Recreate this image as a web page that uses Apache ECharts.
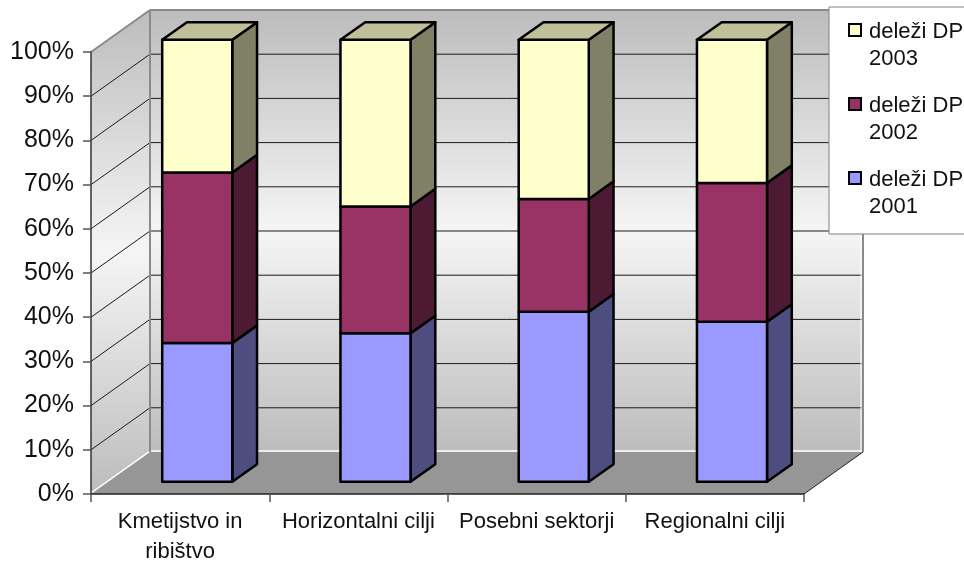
<!DOCTYPE html>
<html>
<head>
<meta charset="utf-8">
<title>deleži DP</title>
<style>
  html, body { margin: 0; padding: 0; background: #fff; }
  #main { width: 964px; height: 561px; }
</style>
<script src="https://cdn.jsdelivr.net/npm/echarts@6/dist/echarts.min.js"></script>
</head>
<body>
<div id="main"></div>
<script>
const categories = ['Kmetijstvo in\nribištvo', 'Horizontalni cilji', 'Posebni sektorji', 'Regionalni cilji'];
const delezi2001 = [31.4, 33.6, 38.5, 36.2];
const delezi2002 = [38.6, 28.7, 25.5, 31.4];
const delezi2003 = [30.0, 37.7, 36.0, 32.4];
const gridTicks = [0, 10, 20, 30, 40, 50, 60, 70, 80, 90, 100];

const fontFamily = '"Liberation Sans", Arial, sans-serif';

// the fake 3D box: how far the back wall sits from the front plane, in px
const depthX = 59;
const depthY = -42;
// bars stand between these fractions of the depth
const barFront = 0.29;
const barBack = 0.71;
const barWidthShare = 0.393;
const barBorder = 2.5;

// legend swatch sits level with the first of the two text lines
const legendIcon = 'path://M0 11H12V23H0ZM0 54L0 54';

function poly(points, fill, stroke, lineWidth) {
  return {
    type: 'polygon',
    shape: { points: points },
    style: { fill: fill, stroke: stroke || null, lineWidth: lineWidth || 0, lineJoin: 'round' }
  };
}

function line(x1, y1, x2, y2, color, width) {
  return {
    type: 'line',
    shape: { x1: x1, y1: y1, x2: x2, y2: y2 },
    style: { stroke: color, lineWidth: width }
  };
}

function wallGradient() {
  return new echarts.graphic.LinearGradient(0, 0, 0, 1, [
    { offset: 0, color: '#bcbcbc' },
    { offset: 0.5, color: '#f5f5f5' },
    { offset: 1, color: '#bcbcbc' }
  ]);
}

function renderWalls(params, api) {
  const band = api.size([1, 0])[0];
  const left = api.coord([0, 0])[0] - band / 2;
  const right = api.coord([categories.length - 1, 0])[0] + band / 2;
  const bottom = api.coord([0, 0])[1];
  const top = api.coord([0, 100])[1];
  const backLeft = left + depthX;
  const backRight = right + depthX;
  const backBottom = bottom + depthY;
  const backTop = top + depthY;

  const children = [
    poly([[left, top], [backLeft, backTop], [backLeft, backBottom], [left, bottom]], wallGradient()),
    poly([[backLeft, backTop], [backRight, backTop], [backRight, backBottom], [backLeft, backBottom]], wallGradient()),
    poly([[left, bottom], [right, bottom], [backRight, backBottom], [backLeft, backBottom]], '#969696')
  ];

  gridTicks.forEach(function (t) {
    if (t === 0 || t === 100) return;
    const y = api.coord([0, t])[1];
    children.push(line(left, y, backLeft, y + depthY, '#1a1a1a', 1));
    children.push(line(backLeft, y + depthY, backRight, y + depthY, '#1a1a1a', 1));
  });

  children.push(line(left, bottom - 1, backLeft, backBottom - 1, '#fff', 1.5));
  children.push(line(backLeft, backBottom - 1, backRight - 1, backBottom - 1, '#fff', 1.5));
  children.push(line(backRight - 2, backTop, backRight - 2, backBottom, '#fff', 1));
  children.push(line(left, top, backLeft, backTop, '#8a8a8a', 2));
  children.push(line(backLeft, backTop, backRight, backTop, '#8a8a8a', 2));
  children.push(line(backLeft, backTop, backLeft, backBottom, '#8a8a8a', 2));
  children.push(line(backRight, backTop, backRight, backBottom, '#8a8a8a', 2));
  children.push(line(right, bottom, backRight, backBottom, '#222', 1));

  return { type: 'group', children: children };
}

// one stacked segment of a column: front face, side face, top face
function makeRenderBar(stackBelow, values, front, side, topFace, isTop) {
  return function (params, api) {
    const i = params.dataIndex;
    const band = api.size([1, 0])[0];
    const w = band * barWidthShare;
    const p0 = api.coord([i, stackBelow[i]]);
    const p1 = api.coord([i, stackBelow[i] + values[i]]);
    const x0 = p0[0] - w / 2 + depthX * barFront;
    const x1 = x0 + w;
    const y0 = p0[1] + depthY * barFront;
    const y1 = p1[1] + depthY * barFront;
    const ox = depthX * (barBack - barFront);
    const oy = depthY * (barBack - barFront);
    const children = [
      poly([[x1, y0], [x1 + ox, y0 + oy], [x1 + ox, y1 + oy], [x1, y1]], side, '#000', barBorder),
      poly([[x0, y0], [x1, y0], [x1, y1], [x0, y1]], front, '#000', barBorder)
    ];
    if (isTop) {
      children.push(poly([[x0, y1], [x1, y1], [x1 + ox, y1 + oy], [x0 + ox, y1 + oy]], topFace, '#000', barBorder));
    }
    return { type: 'group', children: children };
  };
}

const zeros = categories.map(function () { return 0; });
const below2002 = delezi2001.slice();
const below2003 = delezi2001.map(function (v, i) { return v + delezi2002[i]; });

function barSeries(name, values, below, front, side, topFace, isTop) {
  return {
    name: name,
    type: 'custom',
    coordinateSystem: 'cartesian2d',
    clip: false,
    z: 3,
    itemStyle: { color: front },
    encode: { x: 0, y: 1 },
    data: values.map(function (v, i) { return [i, below[i] + v]; }),
    renderItem: makeRenderBar(below, values, front, side, topFace, isTop)
  };
}

const chart = echarts.init(document.getElementById('main'), null, { renderer: 'canvas' });
chart.setOption({
  animation: false,
  backgroundColor: '#fff',
  grid: { left: 91, right: 160, top: 52, bottom: 67, containLabel: false, outerBoundsMode: 'none' },
  xAxis: {
    type: 'category',
    data: categories,
    boundaryGap: true,
    z: 5,
    axisLine: { show: true, lineStyle: { color: '#222', width: 1.5 } },
    axisTick: { show: true, length: 8, alignWithLabel: false, lineStyle: { color: '#555', width: 1.5 } },
    axisLabel: {
      interval: 0,
      margin: 13,
      color: '#111',
      fontFamily: fontFamily,
      fontSize: 22,
      lineHeight: 30
    },
    splitLine: { show: false }
  },
  yAxis: {
    type: 'value',
    min: 0,
    max: 100,
    interval: 10,
    z: 5,
    axisLine: { show: true, lineStyle: { color: '#333', width: 1.5 } },
    axisTick: { show: true, length: 8, lineStyle: { color: '#555', width: 1.5 } },
    axisLabel: {
      margin: 17,
      color: '#111',
      fontFamily: fontFamily,
      fontSize: 25,
      formatter: '{value}%'
    },
    splitLine: { show: false }
  },
  legend: {
    orient: 'vertical',
    left: 829,
    top: 7,
    z: 10,
    padding: [11.5, 4, 13.5, 19],
    backgroundColor: '#fff',
    borderColor: '#808080',
    borderWidth: 1,
    itemWidth: 12,
    itemHeight: 54,
    itemGap: 20,
    icon: legendIcon,
    selectedMode: false,
    itemStyle: { borderColor: '#000', borderWidth: 2 },
    textStyle: {
      color: '#111',
      fontFamily: fontFamily,
      fontSize: 22,
      lineHeight: 27,
      padding: [0, 0, 0, 3]
    },
    data: ['deleži DP\n2003', 'deleži DP\n2002', 'deleži DP\n2001']
  },
  series: [
    {
      name: 'walls',
      type: 'custom',
      coordinateSystem: 'cartesian2d',
      clip: false,
      silent: true,
      z: 1,
      encode: { x: 0, y: 1 },
      data: [[0, 0]],
      renderItem: renderWalls
    },
    barSeries('deleži DP\n2001', delezi2001, zeros, '#9999ff', '#4d4d80', '#4d4d80', false),
    barSeries('deleži DP\n2002', delezi2002, below2002, '#993366', '#4d1a33', '#4d1a33', false),
    barSeries('deleži DP\n2003', delezi2003, below2003, '#ffffcc', '#808066', '#bfbf99', true)
  ]
});
</script>
</body>
</html>
